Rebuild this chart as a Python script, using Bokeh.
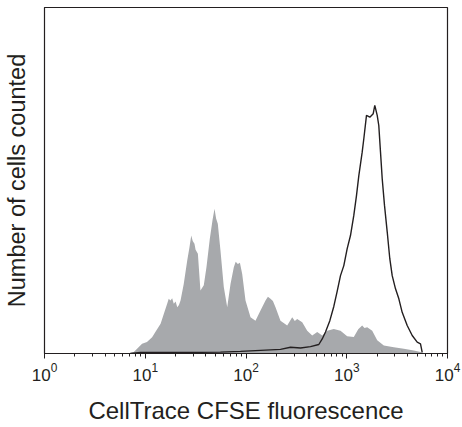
from bokeh.plotting import figure
from bokeh.models import Range1d, FixedTicker, LogTicker
from bokeh.embed import file_html
from bokeh.resources import INLINE

# CFSE-diluted (divided) cells: fluorescence channel and relative cell count
gray_fl = [6.8, 7.7, 9.3, 10.4, 11.7, 12.6, 14.2, 15.3, 16.5, 17.1, 17.8, 18.5, 19.2, 20.0,
           20.8, 21.6, 22.4, 24.1,
           26.1, 27.4, 28.6, 29.6, 30.8, 31.6, 33.3, 35.3, 38.1, 40.5, 43.7, 46.5, 48.7,
           50.5, 52.5, 55.8, 60.2, 65.1,
           70.2, 75.7, 79.0, 83.0, 87.0, 91.7, 98.9, 110.9, 124.2, 139.3, 156.2, 165.0,
           175.0, 185.0, 196.3, 219.9,
           256.4, 287.5, 305.0, 322.3, 361.4, 405.1, 454.2, 509.2, 570.9, 640.0, 743.8,
           866.7, 1010, 1175, 1300, 1423, 1500, 1596, 1790, 2006, 2333, 2933, 3683, 4634,
           5395, 6052]
gray_count = [0.0, 0.4, 2.8, 3.3, 4.7, 6.2, 8.6, 11.5, 14.4, 15.8, 15.3, 16.0, 14.4, 15.0,
              13.4, 14.0, 15.3, 20.1,
              26.9, 30.5, 34.1, 32.5, 31.7, 30.0, 28.8, 18.2, 19.7, 24.9, 33.1, 38.5, 41.8,
              39.0, 37.5, 29.8, 19.2, 13.4,
              20.1, 24.9, 26.5, 25.9, 26.2, 23.0, 15.3, 10.5, 9.5, 12.4, 15.3, 16.4,
              15.8, 15.2, 13.4, 9.5,
              8.1, 10.5, 9.4, 10.0, 9.0, 6.6, 5.2, 6.2, 5.2, 6.6, 7.1,
              6.6, 5.0, 4.8, 7.0, 8.1, 7.4, 7.6, 6.6, 3.8, 2.3, 1.8, 1.4, 0.9,
              0.4, 0.0]

# Undivided (parent) cells
cfse_fl = [7.1, 9.0, 22.4, 55.8, 88.2, 139.3, 219.9, 276.5, 347.6, 436.9, 528.0, 570.9,
           615.3, 679.3, 743.8, 804.3, 866.7, 935.2, 1010, 1089, 1175, 1250, 1318, 1423,
           1476, 1570, 1694, 1831, 1898, 2006, 2080, 2163, 2249, 2370, 2522, 2675, 2826,
           3048, 3289, 3550, 3981, 4464, 5004, 5395, 5610]
cfse_count = [0.0, 0.3, 0.3, 0.4, 0.6, 0.9, 1.2, 1.8, 1.6, 2.0, 2.6, 4.2,
              6.2, 9.5, 13.6, 18.0, 22.5, 25.4, 30.3, 34.1, 39.9, 45.7, 51.4, 58.2,
              62.0, 68.8, 68.3, 69.3, 71.7, 68.8, 65.9, 58.2, 50.5, 42.8, 35.1, 27.4, 22.5,
              18.7, 15.8, 11.9, 8.1, 5.2, 3.3, 2.8, 0.3]

FONT = "Liberation Sans"
INK = "#231f20"

p = figure(width=462, height=427, x_axis_type="log",
           x_range=Range1d(1, 10000), y_range=Range1d(0, 100),
           output_backend="svg", toolbar_location=None,
           min_border_left=44, min_border_right=15, min_border_top=7,
           min_border_bottom=74)

p.varea(x=gray_fl, y1=[0] * len(gray_fl), y2=gray_count, fill_color="#a7a9ac")
p.line(x=cfse_fl, y=cfse_count, line_color=INK, line_width=1.4)

p.xgrid.visible = False
p.ygrid.visible = False
p.outline_line_color = INK
p.outline_line_width = 1.2
p.background_fill_color = "white"
p.border_fill_color = "white"

xa = p.xaxis[0]
xa.ticker = LogTicker(num_minor_ticks=10, desired_num_ticks=5)
xa.axis_label = "CellTrace CFSE fluorescence"
xa.axis_label_text_font = FONT
xa.axis_label_text_font_style = "normal"
xa.axis_label_text_font_size = "24px"
xa.axis_label_text_color = INK
xa.axis_label_standoff = 13
xa.major_label_text_font = FONT
xa.major_label_text_font_size = "17px"
xa.major_label_text_color = INK
xa.major_label_standoff = 4
xa.axis_line_color = INK
xa.axis_line_width = 1.2
xa.major_tick_line_color = INK
xa.minor_tick_line_color = INK
xa.major_tick_in = 0
xa.major_tick_out = 5
xa.minor_tick_in = 0
xa.minor_tick_out = 3

ya = p.yaxis[0]
ya.ticker = FixedTicker(ticks=[])
ya.axis_label = "Number of cells counted"
ya.axis_label_text_font = FONT
ya.axis_label_text_font_style = "normal"
ya.axis_label_text_font_size = "23.5px"
ya.axis_label_text_color = INK
ya.axis_label_standoff = 15
ya.major_tick_line_color = None
ya.minor_tick_line_color = None
ya.major_label_text_font_size = "0px"
ya.major_label_standoff = 0
ya.major_tick_out = 0
ya.minor_tick_out = 0
ya.axis_line_color = INK

open("out.html", "w").write(file_html(p, INLINE))
